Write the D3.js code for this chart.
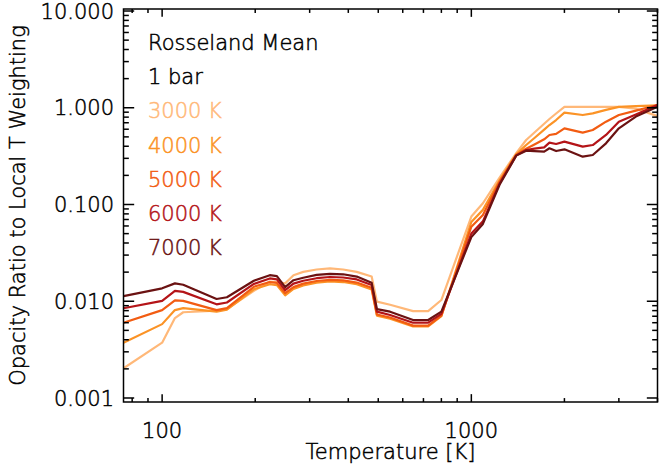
<!DOCTYPE html>
<html>
<head>
<meta charset="utf-8">
<title>Rosseland Mean opacity ratio</title>
<script src="https://d3js.org/d3.v7.min.js"></script>
<style>
  body { margin: 0; background: #fff; }
  svg text { font-family: "DejaVu Sans", sans-serif; font-size: 21px; font-weight: 200;
             fill: #000; stroke: #000; stroke-width: 0.5; }
  .axis line, .frame { stroke: #000; stroke-width: 1.5; fill: none; }
  .curve { fill: none; stroke-width: 2.2; stroke-linejoin: round; }
</style>
</head>
<body>
<svg width="660" height="467"></svg>
<script>
// temperatures [K] shared by all curves
var temps = [75, 100, 110, 117, 150, 162, 198, 223, 235, 250, 266, 286, 316, 349, 385, 426, 476, 495,
             546, 648, 725, 800, 1000, 1090, 1234, 1397, 1504, 1600, 1720, 1789, 1880, 2000, 2292, 2470,
             2726, 3000, 3405, 4000];

// opacity ratio for each local temperature weighting
var k3000 = [0.00203, 0.00373, 0.0067, 0.0077, 0.0080, 0.0083, 0.0128, 0.0160, 0.0158, 0.0153, 0.0186, 0.0201,
             0.0213, 0.0219, 0.0213, 0.0201, 0.0180, 0.0099, 0.0092, 0.0079, 0.0079, 0.0103, 0.075, 0.103,
             0.19, 0.34, 0.464, 0.555, 0.683, 0.765, 0.872, 1.02, 1.02, 1.02, 1.02, 1.02, 0.98, 0.82];
var k4000 = [0.00373, 0.0058, 0.0081, 0.0085, 0.0078, 0.0082, 0.0133, 0.0150, 0.0147, 0.0115, 0.0134, 0.0146,
             0.0156, 0.0160, 0.0158, 0.0150, 0.0132, 0.0071, 0.0066, 0.0055, 0.0055, 0.0070, 0.066, 0.088,
             0.178, 0.33, 0.412, 0.487, 0.595, 0.663, 0.747, 0.89, 0.841, 0.876, 0.95, 1.02, 1.04, 1.06];
var k5000 = [0.0060, 0.0081, 0.0102, 0.0101, 0.0081, 0.0085, 0.0141, 0.0158, 0.0155, 0.0121, 0.0140, 0.0152,
             0.0162, 0.0166, 0.0164, 0.0156, 0.0138, 0.0073, 0.0068, 0.0056, 0.0056, 0.0071, 0.059, 0.078,
             0.172, 0.325, 0.377, 0.417, 0.472, 0.523, 0.536, 0.613, 0.553, 0.589, 0.718, 0.841, 0.933, 1.067];
var k6000 = [0.00846, 0.0101, 0.0128, 0.0125, 0.0093, 0.0097, 0.0151, 0.0172, 0.0168, 0.0130, 0.0152, 0.0163,
             0.0173, 0.0178, 0.0176, 0.0168, 0.0147, 0.0078, 0.0072, 0.0060, 0.0060, 0.0074, 0.050, 0.067,
             0.165, 0.322, 0.366, 0.378, 0.390, 0.436, 0.422, 0.446, 0.396, 0.412, 0.523, 0.718, 0.85, 1.067];
var k7000 = [0.0113, 0.0136, 0.0153, 0.0148, 0.01055, 0.0110, 0.0163, 0.0186, 0.0182, 0.0140, 0.0165, 0.0175,
             0.0187, 0.0192, 0.0190, 0.0180, 0.0155, 0.0083, 0.0078, 0.0064, 0.0064, 0.0078, 0.046, 0.063,
             0.16, 0.32, 0.360, 0.356, 0.352, 0.381, 0.357, 0.372, 0.312, 0.325, 0.429, 0.613, 0.81, 1.026];

var seriesNames = ["3000 K", "4000 K", "5000 K", "6000 K", "7000 K"];
var seriesValues = [k3000, k4000, k5000, k6000, k7000];
var colors = ["#ffb878", "#fb9326", "#f25c12", "#b41418", "#6b1212"];

var xMajor = [100, 1000];
var xMinor = [80, 90, 200, 300, 400, 500, 600, 700, 800, 900, 2000, 3000, 4000];
var yMajor = [0.001, 0.01, 0.1, 1, 10];

var svg = d3.select("svg");
var pLeft = 123.5, pRight = 657.5, pTop = 9, pBottom = 402;

var x = d3.scaleLog().domain([75, 4000]).range([pLeft, pRight]);
var y = d3.scaleLog().domain([0.000909, 10.49]).range([pBottom, pTop]);

var yMinor = [];
yMajor.forEach(function(d) {
  for (var m = 2; m <= 9; m++) if (d * m < 10.49) yMinor.push(d * m);
});

svg.append("clipPath").attr("id", "clip")
  .append("rect").attr("x", pLeft).attr("y", pTop).attr("width", pRight - pLeft).attr("height", pBottom - pTop);

// curves
var line = d3.line()
    .x(function(d) { return x(d[0]); })
    .y(function(d) { return y(d[1]); });

svg.append("g").attr("clip-path", "url(#clip)")
  .selectAll("path")
  .data(seriesValues)
  .enter().append("path")
    .attr("class", "curve")
    .attr("stroke", function(d, i) { return colors[i]; })
    .attr("d", function(vals) { return line(temps.map(function(t, j) { return [t, vals[j]]; })); });

// ticks on all four sides, pointing inward (IDL style)
var ax = svg.append("g").attr("class", "axis");
var xLen = 0.02 * (pBottom - pTop), yLen = 0.02 * (pRight - pLeft);

function xTicks(vals, len) {
  vals.forEach(function(v) {
    ax.append("line").attr("x1", x(v)).attr("x2", x(v)).attr("y1", pBottom).attr("y2", pBottom - len);
    ax.append("line").attr("x1", x(v)).attr("x2", x(v)).attr("y1", pTop).attr("y2", pTop + len);
  });
}
function yTicks(vals, len) {
  vals.forEach(function(v) {
    ax.append("line").attr("x1", pLeft).attr("x2", pLeft + len).attr("y1", y(v)).attr("y2", y(v));
    ax.append("line").attr("x1", pRight).attr("x2", pRight - len).attr("y1", y(v)).attr("y2", y(v));
  });
}
xTicks(xMajor, xLen);
xTicks(xMinor, xLen / 2);
yTicks(yMajor, yLen);
yTicks(yMinor, yLen / 2);

svg.append("rect").attr("class", "frame")
  .attr("x", pLeft).attr("y", pTop).attr("width", pRight - pLeft).attr("height", pBottom - pTop);

// tick labels
svg.append("g").selectAll("text")
  .data(xMajor)
  .enter().append("text")
    .attr("x", function(d) { return x(d); })
    .attr("y", 438)
    .attr("text-anchor", "middle")
    .text(function(d) { return d; });

svg.append("g").selectAll("text")
  .data(yMajor)
  .enter().append("text")
    .attr("x", 114)
    .attr("y", function(d) { return y(d); })
    .attr("dy", "0.36em")
    .attr("text-anchor", "end")
    .text(function(d) { return d3.format(".3f")(d); });

// axis titles
svg.append("text")
  .attr("x", (pLeft + pRight) / 2)
  .attr("y", 459)
  .attr("text-anchor", "middle")
  .text("Temperature [K]");

svg.append("text")
  .attr("transform", "translate(25," + ((pTop + pBottom) / 2) + ") rotate(-90)")
  .attr("text-anchor", "middle")
  .text("Opacity Ratio to Local T Weighting");

// legend
var legendLines = ["Rosseland Mean", "1 bar"].concat(seriesNames);
var legendColors = ["#000", "#000"].concat(colors);
svg.append("g").selectAll("text")
  .data(legendLines)
  .enter().append("text")
    .attr("x", 148)
    .attr("y", function(d, i) { return 50 + i * 34.2; })
    .style("fill", function(d, i) { return legendColors[i]; })
    .style("stroke", function(d, i) { return legendColors[i]; })
    .text(function(d) { return d; });
</script>
</body>
</html>
